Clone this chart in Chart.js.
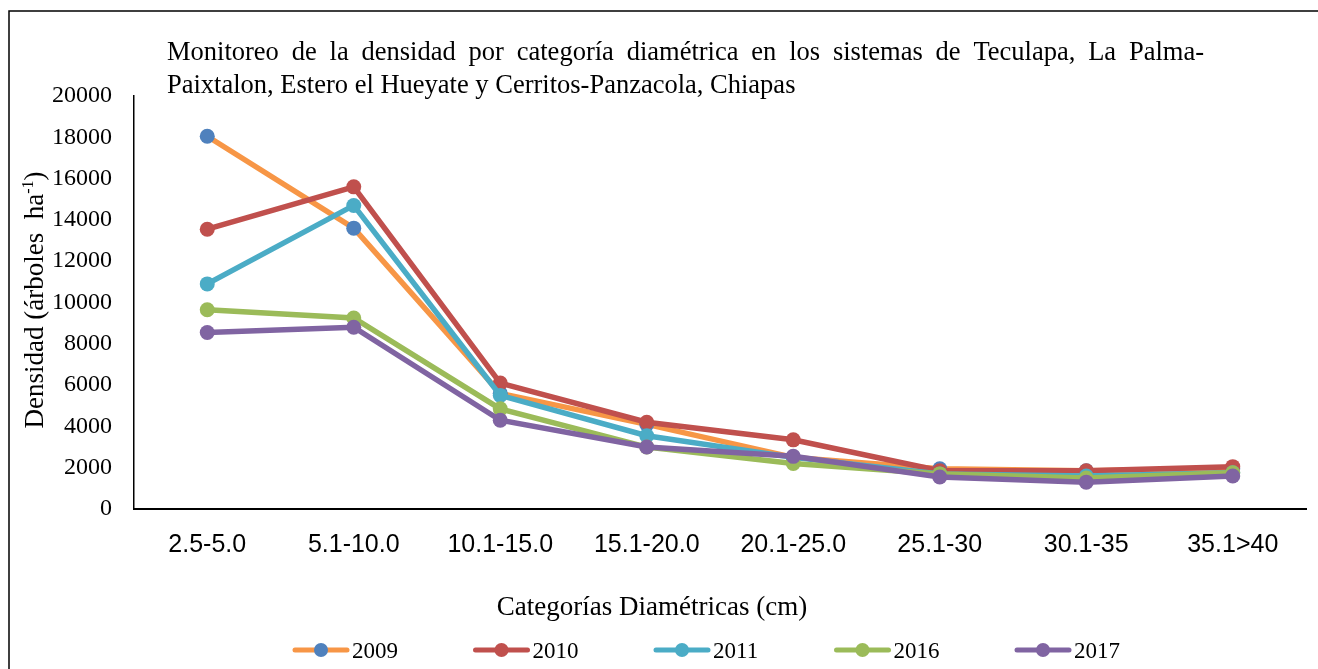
<!DOCTYPE html>
<html>
<head>
<meta charset="utf-8">
<script src="https://cdn.jsdelivr.net/npm/chart.js@4.4.0/dist/chart.umd.min.js"></script>
<style>
  html, body { margin: 0; padding: 0; background: #fff; }
  canvas { display: block; }
</style>
</head>
<body>
<canvas id="densChart" width="1318" height="669"></canvas>
<script>
// Datos
const categorias = ['2.5-5.0', '5.1-10.0', '10.1-15.0', '15.1-20.0', '20.1-25.0', '25.1-30', '30.1-35', '35.1>40'];
const anios = ['2009', '2010', '2011', '2016', '2017'];
const d2009 = [18050, 13600, 5600, 4100, 2500, 1950, 1850, 1950];
const d2010 = [13550, 15600, 6100, 4200, 3350, 1850, 1850, 2050];
const d2011 = [10900, 14700, 5500, 3550, 2500, 1700, 1600, 1750];
const d2016 = [9650, 9250, 4850, 3000, 2200, 1700, 1500, 1750];
const d2017 = [8550, 8800, 4300, 3000, 2550, 1550, 1300, 1600];
const yTicks = [0, 2000, 4000, 6000, 8000, 10000, 12000, 14000, 16000, 18000, 20000];

const series = [d2009, d2010, d2011, d2016, d2017];
const lineColors = ['#f79646', '#c0504d', '#4bacc6', '#9bbb59', '#8064a2'];
const markerColors = ['#4f81bd', '#c0504d', '#4bacc6', '#9bbb59', '#8064a2'];

const titulo1 = 'Monitoreo de la densidad por categoría diamétrica en los sistemas de Teculapa, La Palma-';
const titulo2 = 'Paixtalon, Estero el Hueyate y Cerritos-Panzacola, Chiapas';
const serif = '"Liberation Serif", "Times New Roman", serif';

// texto justificado entre x0 y x1
function justified(ctx, text, x0, x1, y) {
    const words = text.split(' ');
    const wTot = words.reduce((s, w) => s + ctx.measureText(w).width, 0);
    const gap = (x1 - x0 - wTot) / (words.length - 1);
    let x = x0;
    words.forEach(w => { ctx.fillText(w, x, y); x += ctx.measureText(w).width + gap; });
}

const decor = {
    id: 'decor',
    beforeDraw(chart) {
        const ctx = chart.ctx;
        ctx.save();
        ctx.fillStyle = '#fff';
        ctx.fillRect(0, 0, chart.width, chart.height);
        ctx.strokeStyle = '#000';
        ctx.lineWidth = 1.5;
        ctx.beginPath();
        ctx.moveTo(9, chart.height);
        ctx.lineTo(9, 11);
        ctx.lineTo(chart.width, 11);
        ctx.stroke();
        ctx.restore();
    },
    afterDraw(chart) {
        const ctx = chart.ctx;
        ctx.save();
        ctx.fillStyle = '#000';
        ctx.textBaseline = 'alphabetic';
        ctx.font = '26.5px ' + serif;
        ctx.textAlign = 'left';
        justified(ctx, titulo1, 167, 1204, 60);
        ctx.fillText(titulo2, 167, 93);

        // título eje x
        ctx.font = '27px ' + serif;
        ctx.textAlign = 'center';
        ctx.fillText('Categorías Diamétricas (cm)', 652, 615);

        // título eje y con superíndice
        ctx.save();
        ctx.translate(43, 300);
        ctx.rotate(-Math.PI / 2);
        const p1 = 'Densidad (árboles  ha', sup = '-1', p3 = ')';
        ctx.font = '27px ' + serif;
        const w1 = ctx.measureText(p1).width, w3 = ctx.measureText(p3).width;
        ctx.font = '16px ' + serif;
        const w2 = ctx.measureText(sup).width;
        let x = -(w1 + w2 + w3) / 2;
        ctx.textAlign = 'left';
        ctx.font = '27px ' + serif;
        ctx.fillText(p1, x, 0); x += w1;
        ctx.font = '16px ' + serif;
        ctx.fillText(sup, x, -10); x += w2;
        ctx.font = '27px ' + serif;
        ctx.fillText(p3, x, 0);
        ctx.restore();

        // leyenda
        anios.forEach((a, i) => {
            const lx = 293 + i * 180.5, ly = 650;
            ctx.strokeStyle = lineColors[i];
            ctx.lineWidth = 5;
            ctx.lineCap = 'round';
            ctx.beginPath();
            ctx.moveTo(lx + 2, ly); ctx.lineTo(lx + 54, ly);
            ctx.stroke();
            ctx.fillStyle = markerColors[i];
            ctx.beginPath();
            ctx.arc(lx + 28, ly, 7, 0, Math.PI * 2);
            ctx.fill();
            ctx.fillStyle = '#000';
            ctx.font = '23px ' + serif;
            ctx.textAlign = 'left';
            ctx.fillText(a, lx + 59, 658);
        });
        ctx.restore();
    }
};

new Chart(document.getElementById('densChart'), {
    type: 'line',
    data: {
        labels: categorias,
        datasets: series.map((s, i) => ({
            label: anios[i],
            data: s,
            borderColor: lineColors[i],
            backgroundColor: markerColors[i],
            pointBackgroundColor: markerColors[i],
            pointBorderColor: markerColors[i],
            pointRadius: 7.5,
            pointBorderWidth: 0,
            borderWidth: 5.5,
            tension: 0,
            order: series.length - i
        }))
    },
    options: {
        responsive: false,
        animation: false,
        devicePixelRatio: 1,
        layout: { padding: { top: 96, right: 12, left: 0, bottom: 0 } },
        plugins: { legend: { display: false }, title: { display: false }, tooltip: { enabled: false } },
        scales: {
            x: {
                offset: true,
                grid: { display: false, drawTicks: false },
                border: { display: true, color: '#000', width: 2 },
                ticks: { color: '#000', padding: 21, font: { family: '"Liberation Sans Narrow", "Liberation Sans", Arial, sans-serif', size: 25 } },
                afterFit(scale) { scale.height = 160; }
            },
            y: {
                min: 0, max: 20000,
                afterBuildTicks(scale) { scale.ticks = yTicks.map(v => ({ value: v })); },
                grid: { display: false, drawTicks: false },
                border: { display: true, color: '#000', width: 1.5 },
                ticks: { color: '#000', padding: 22, font: { family: serif, size: 24 }, callback: v => String(v) },
                afterFit(scale) { scale.width = 134; }
            }
        }
    },
    plugins: [decor]
});
</script>
</body>
</html>
